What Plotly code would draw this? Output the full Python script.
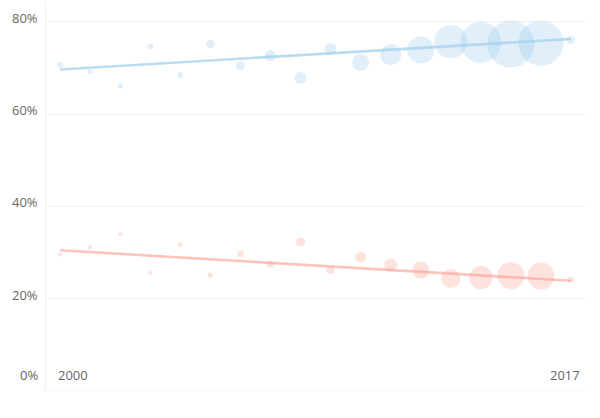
import plotly.graph_objects as go

years = list(range(2000, 2018))

blue_values = [70.7, 69.2, 66.1, 74.6, 68.5, 75.2, 70.5, 72.7, 67.9, 74.1,
               71.2, 72.9, 73.9, 75.7, 75.6, 75.2, 75.4, 76.0]
blue_sizes = [6, 5, 5, 6, 6, 8.5, 9, 11, 12, 12, 17, 21, 27, 33, 41, 47, 45, 8]

red_values = [29.6, 31.1, 34.0, 25.6, 31.7, 25.1, 29.7, 27.5, 32.3, 26.2,
              29.0, 27.3, 26.2, 24.4, 24.6, 25.0, 24.9, 24.1]
red_sizes = [4, 4, 4, 4, 5, 5.5, 6.5, 7, 9, 8, 11, 13, 17, 19, 23, 27, 27, 6]

trend_years = [2000, 2017]
blue_trend = [69.7, 76.3]
red_trend = [30.5, 23.9]

y_ticks = [0, 20, 40, 60, 80]
y_tick_labels = ["0%", "20%", "40%", "60%", "80%"]
x_tick_years = [2000, 2017]
x_tick_labels = ["2000", "2017"]

FONT = "Open Sans, Lato, sans-serif"

fig = go.Figure()

fig.add_trace(go.Scatter(
    x=years, y=blue_values, mode="markers",
    marker=dict(size=blue_sizes, color="rgb(160,206,235)", opacity=0.32, line=dict(width=0)),
    hoverinfo="skip", showlegend=False))
fig.add_trace(go.Scatter(
    x=years, y=red_values, mode="markers",
    marker=dict(size=red_sizes, color="rgb(252,160,145)", opacity=0.3, line=dict(width=0)),
    hoverinfo="skip", showlegend=False))
fig.add_trace(go.Scatter(
    x=trend_years, y=blue_trend, mode="lines",
    line=dict(color="rgba(160,206,235,0.72)", width=2.6),
    hoverinfo="skip", showlegend=False))
fig.add_trace(go.Scatter(
    x=trend_years, y=red_trend, mode="lines",
    line=dict(color="rgba(252,160,145,0.62)", width=2.6),
    hoverinfo="skip", showlegend=False))

annotations = []
for v, lab in zip(y_ticks, y_tick_labels):
    annotations.append(dict(
        x=0, xref="paper", y=v, yref="y", text=lab, showarrow=False,
        xanchor="right", yanchor="middle", xshift=-6,
        yshift=16 if v == 0 else 4,
        font=dict(family=FONT, size=13, color="#666666")))
for yr, lab in zip(x_tick_years, x_tick_labels):
    first = yr == x_tick_years[0]
    annotations.append(dict(
        x=yr if first else 1, xref="x" if first else "paper", y=0, yref="y",
        text=lab, showarrow=False,
        xanchor="left" if first else "right", yanchor="middle",
        xshift=-4, yshift=16,
        font=dict(family=FONT, size=13, color="#666666")))

fig.update_layout(
    width=600, height=418,
    margin=dict(l=46, r=14, t=3, b=27),
    paper_bgcolor="white", plot_bgcolor="white",
    annotations=annotations,
    xaxis=dict(range=[1999.53, 2017.5], showgrid=False, zeroline=False,
               showticklabels=False, ticks="", showline=False),
    yaxis=dict(range=[0, 84.1], tickvals=y_ticks[1:], showticklabels=False,
               showgrid=True, gridcolor="#f0f0f0", gridwidth=1, zeroline=False,
               ticks="", showline=True, linecolor="#f0f0f0", linewidth=1),
)

fig.add_shape(type="line", xref="paper", yref="y", x0=-0.008, x1=1, y0=0, y1=0,
              line=dict(color="#ececec", width=1))

fig.write_html("out.html")
